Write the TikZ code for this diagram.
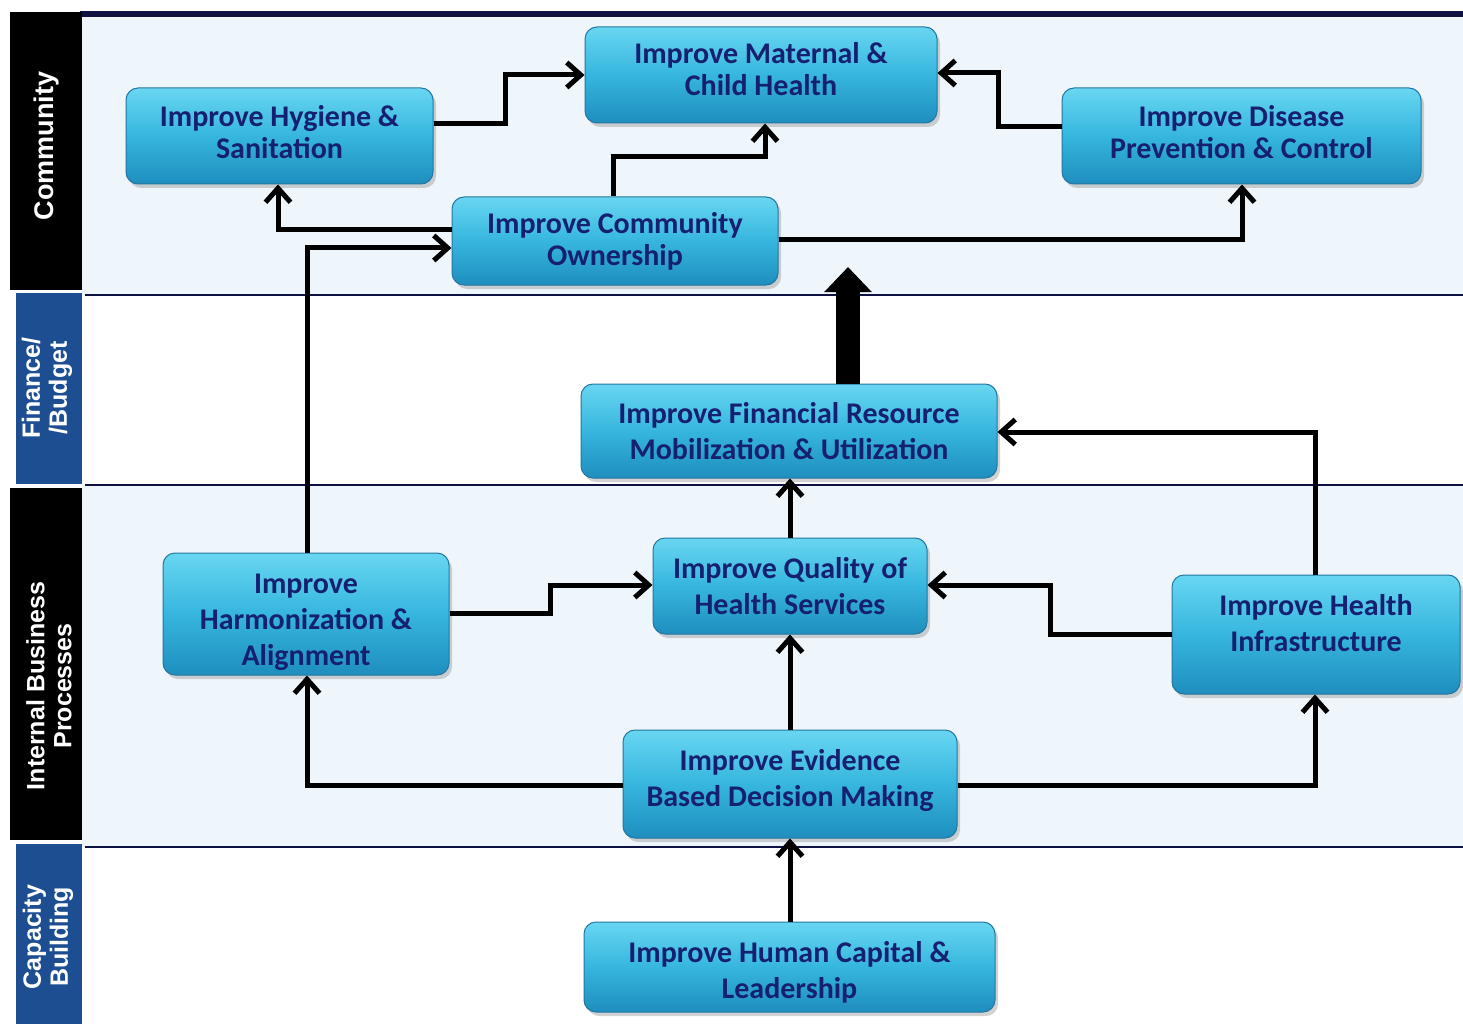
\documentclass[tikz,border=0pt]{standalone}
\usepackage{fontspec}
\setmainfont{Carlito}
\newfontfamily\labfont{Liberation Sans}
\usetikzlibrary{arrows.meta,shadows}
\definecolor{navytext}{RGB}{22,32,112}
\definecolor{boxtop}{RGB}{104,214,242}
\definecolor{boxmid}{RGB}{54,182,222}
\definecolor{boxbot}{RGB}{30,142,190}
\definecolor{boxline}{RGB}{36,118,160}
\definecolor{bandbg}{RGB}{238,246,252}
\definecolor{labblue}{RGB}{30,78,146}
\definecolor{rulenavy}{RGB}{14,18,66}
\newcommand{\gtxt}[2]{\raisebox{#1}[\height][\depth]{\begin{tabular}{@{}c@{}}#2\end{tabular}}}
\begin{document}
\begin{tikzpicture}[x=1pt,y=-1pt,
  goal/.style={draw=boxline, line width=1pt, rounded corners=12pt,
    top color=boxtop, bottom color=boxbot, middle color=boxmid,
    drop shadow={opacity=0.35, shadow xshift=3pt, shadow yshift=-4pt},
    inner sep=0pt, align=center, text=navytext},
  gfontA/.style={font=\bfseries\fontsize{30}{32}\selectfont},
  gfontB/.style={font=\bfseries\fontsize{30}{36}\selectfont},
  arr/.style={line width=5pt, line join=miter, -{Straight Barb[length=14pt,width=25pt]}},
  lab/.style={rotate=90, text=white, align=center, inner sep=0pt,
    font=\labfont\bfseries\fontsize{25}{27}\selectfont},
  sep/.style={draw=rulenavy, line width=1.6pt}
]
\useasboundingbox (0,0) rectangle (1463,1024);
\fill[white] (0,0) rectangle (1463,1024);
% bands
\fill[bandbg] (82,17) rectangle (1463,295);
\fill[bandbg] (82,485) rectangle (1463,847);
\fill[rulenavy] (80,11) rectangle (1463,17);
\draw[sep] (85,295) -- (1463,295);
\draw[sep] (85,485) -- (1463,485);
\draw[sep] (85,847) -- (1463,847);
% label strips
\fill[black] (10,12) rectangle (82,290);
\fill[labblue] (16,293) rectangle (82,484);
\fill[black] (10,488) rectangle (82,840);
\fill[labblue] (16,844) rectangle (82,1024);
\node[lab, font=\labfont\bfseries\fontsize{27}{29}\selectfont] (lcom) at (47,146) {Community};
\node[lab] (lfin) at (47,388) {Finance/\\/Budget};
\node[lab] (lint) at (49,686) {Internal Business\\Processes};
\node[lab] (lcap) at (48,937) {Capacity\\Building};
% goal boxes
\node[goal, gfontA, minimum width=352pt, minimum height=96pt] (mat) at (761,75) {\gtxt{2pt}{Improve Maternal \&\\Child Health}};
\node[goal, gfontA, minimum width=307pt, minimum height=96pt] (hyg) at (279.5,136) {\gtxt{0pt}{Improve Hygiene \&\\Sanitation}};
\node[goal, gfontA, minimum width=359pt, minimum height=96pt] (dis) at (1241.5,136) {\gtxt{0pt}{Improve Disease\\Prevention \& Control}};
\node[goal, gfontA, minimum width=326pt, minimum height=88pt] (own) at (615,241) {\gtxt{-2pt}{Improve Community\\Ownership}};
\node[goal, gfontB, minimum width=416pt, minimum height=94pt] (fin) at (789,431) {\gtxt{-3pt}{Improve Financial Resource\\Mobilization \& Utilization}};
\node[goal, gfontB, minimum width=274pt, minimum height=96pt] (qual) at (790,586) {\gtxt{-3pt}{Improve Quality of\\Health Services}};
\node[goal, gfontB, minimum width=286pt, minimum height=122pt] (har) at (306,614) {\gtxt{-8pt}{Improve\\Harmonization \&\\Alignment}};
\node[goal, gfontB, minimum width=288pt, minimum height=119pt] (inf) at (1316,634.5) {\gtxt{8pt}{Improve Health\\Infrastructure}};
\node[goal, gfontB, minimum width=334pt, minimum height=108pt] (evi) at (790,784) {\gtxt{3pt}{Improve Evidence\\Based Decision Making}};
\node[goal, gfontB, minimum width=411pt, minimum height=90pt] (hum) at (789.5,967) {\gtxt{-6pt}{Improve Human Capital \&\\Leadership}};
% connectors
\draw[arr] (hyg.east |- 0,124) -- (505,124) -- (505,75) -- (mat.west |- 0,75);
\draw[arr] (dis.west |- 0,127) -- (998,127) -- (998,73) -- (mat.east |- 0,73);
\draw[arr] (own.north -| 613,0) -- (613,157) -- (765,157) -- (mat.south -| 765,0);
\draw[arr] (own.west |- 0,230) -- (278,230) -- (hyg.south -| 278,0);
\draw[arr] (own.east |- 0,240) -- (1242,240) -- (dis.south -| 1242,0);
\draw[arr] (har.north -| 307,0) -- (307,248) -- (own.west |- 0,248);
\coordinate (thicktip) at (848,267);
\draw[line width=24pt, -{Triangle[length=25pt,width=46pt]}] (fin.north -| 848,0) -- (thicktip);
\draw[arr] (qual.north -| 790,0) -- (fin.south -| 790,0);
\draw[arr] (inf.north -| 1315,0) -- (1315,432) -- (fin.east |- 0,432);
\draw[arr] (har.east |- 0,613) -- (550,613) -- (550,585) -- (qual.west |- 0,585);
\draw[arr] (inf.west |- 0,634) -- (1050,634) -- (1050,585) -- (qual.east |- 0,585);
\draw[arr] (evi.north -| 790,0) -- (qual.south -| 790,0);
\draw[arr] (evi.west |- 0,785) -- (307,785) -- (har.south -| 307,0);
\draw[arr] (evi.east |- 0,785) -- (1315,785) -- (inf.south -| 1315,0);
\draw[arr] (hum.north -| 790,0) -- (evi.south -| 790,0);
\end{tikzpicture}
\end{document}
